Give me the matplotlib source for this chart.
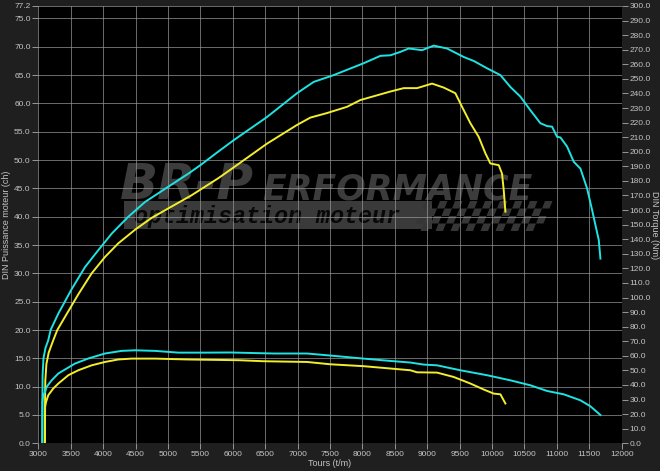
import numpy as np
import matplotlib
matplotlib.use('Agg')
import matplotlib.pyplot as plt
from matplotlib.patches import Polygon, Rectangle

# puissance (ch) - courbe cyan
rpm_p_cyan = [3060, 3062, 3066, 3080, 3110, 3154, 3190, 3309, 3514, 3720, 3926, 4131, 4389,
              4646, 5006, 5314, 5500, 5777, 6013, 6528, 6991, 7248, 7557, 8020, 8277, 8432,
              8586, 8714, 8920, 9100, 9306, 9563, 9717, 9923, 10129, 10283, 10437, 10591,
              10746, 10849, 10926, 11003, 11054, 11157, 11260, 11363, 11466, 11543, 11646,
              11672]
hp_cyan = [0.0, 6.0, 12.0, 15.0, 16.8, 18.2, 20.0, 22.9, 27.2, 31.1, 34.1, 37.0, 40.0,
           42.6, 45.3, 47.6, 49.1, 51.5, 53.5, 57.6, 61.8, 63.8, 65.0, 67.1, 68.4, 68.5,
           69.1, 69.7, 69.4, 70.2, 69.7, 68.2, 67.5, 66.2, 65.0, 62.9, 61.2, 58.8,
           56.5, 56.0, 55.9, 54.1, 54.0, 52.4, 49.7, 48.5, 45.0, 41.2, 35.9,
           32.6]

# puissance (ch) - courbe jaune
rpm_p_yellow = [3100, 3103, 3108, 3125, 3160, 3231, 3293, 3411, 3617, 3823, 4029, 4234, 4492,
                4749, 5057, 5366, 5777, 6013, 6528, 6991, 7197, 7454, 7762, 7969, 8277,
                8431, 8637, 8843, 9074, 9254, 9434, 9537, 9666, 9794, 9897, 9974, 10103,
                10154, 10180, 10206]
hp_yellow = [0.0, 6.0, 11.0, 14.0, 16.0, 18.2, 20.0, 22.3, 26.3, 30.0, 32.9, 35.3, 37.7,
             39.8, 41.8, 43.8, 46.8, 48.7, 52.9, 56.2, 57.5, 58.3, 59.4, 60.6, 61.6,
             62.1, 62.7, 62.7, 63.5, 62.8, 61.8, 59.4, 56.5, 54.1, 51.2, 49.4, 49.1,
             47.6, 44.7, 40.9]

# couple (Nm) - courbe cyan
rpm_t_cyan = [3062, 3064, 3075, 3103, 3129, 3206, 3309, 3411, 3566, 3772, 4029, 4286, 4492,
              4800, 5160, 5571, 5963, 6631, 7146, 7506, 8020, 8432, 8740, 8946, 9151, 9511,
              9923, 10283, 10591, 10849, 11106, 11363, 11517, 11672]
nm_cyan = [0.0, 28.0, 33.0, 35.2, 38.7, 43.2, 47.9, 50.6, 54.7, 58.2, 61.6, 63.4, 63.8,
           63.4, 62.2, 62.2, 62.3, 61.6, 61.6, 60.2, 58.1, 56.5, 55.4, 54.0, 53.5, 50.1,
           46.7, 43.2, 39.8, 35.9, 33.6, 29.5, 25.4, 19.4]

# couple (Nm) - courbe jaune
rpm_t_yellow = [3102, 3105, 3120, 3154, 3231, 3309, 3463, 3617, 3823, 4029, 4234, 4440,
                4800, 5314, 6086, 6477, 7146, 7506, 8020, 8432, 8740, 8843, 9151, 9408,
                9666, 9871, 10026, 10129, 10206]
nm_yellow = [0.0, 25.0, 28.4, 33.0, 37.6, 41.0, 46.7, 50.1, 53.5, 55.8, 57.5, 58.1,
             58.1, 57.5, 57.0, 56.3, 55.8, 54.2, 52.9, 51.3, 50.1, 48.7, 48.5, 45.5,
             41.0, 36.9, 34.1, 33.6, 27.3]

x_ticks = np.arange(3000, 12001, 500)
left_ticks = list(np.arange(0, 75.1, 5)) + [77.2]
right_ticks = np.arange(0, 301, 10)

CYAN = '#1ee3e3'
YELLOW = '#f2ee2a'
LABEL = '#c4c4c4'
GRID = '#9a9a9a'

plt.rcParams['font.family'] = ['Liberation Sans', 'DejaVu Sans']

W, H = 660, 471
fig = plt.figure(figsize=(6.6, 4.71), dpi=100, facecolor='#1f1f1f')
ax = fig.add_axes([38.3 / W, 1 - 443.3 / H, (621.7 - 38.3) / W, (443.3 - 6) / H])
ax.set_facecolor('black')
ax2 = ax.twinx()

# logo en filigrane (coordonnees pixels de l'image)
pix = lambda x, y: (x / W, 1 - y / H)
tf = fig.transFigure
ax.add_patch(Rectangle(pix(124, 229), (432 - 124) / W, 28 / H, transform=tf,
                       facecolor='#3a3a3a', edgecolor='none', zorder=0.2))
ax.text(*pix(120, 199), 'BR-P', transform=tf, fontsize=36, fontweight='bold', style='italic',
        color='#3c3c3c', family='DejaVu Sans', zorder=0.3)
ax.text(*pix(262, 199), 'ERFORMANCE', transform=tf, fontsize=25, fontweight='bold',
        style='italic', color='#3c3c3c', family='DejaVu Sans', zorder=0.3)
ax.text(*pix(134, 223), 'optimisation moteur', transform=tf, fontsize=16.8, fontweight='bold',
        style='italic', color='#080808', family='Liberation Mono', zorder=0.35)
# damier
sq = 7.5
for r in range(4):
    for c in range(17):
        if (r + c) % 2:
            continue
        x0 = 425 + c * sq - r * 3
        y0 = 201 + r * sq
        pts = [pix(x0, y0), pix(x0 + sq, y0), pix(x0 + sq - 3, y0 + sq), pix(x0 - 3, y0 + sq)]
        ax.add_patch(Polygon(pts, closed=True, transform=tf, facecolor='#363636',
                             edgecolor='none', zorder=0.3))

ax.set_xlim(3000, 12000)
ax.set_ylim(0, 77.2)
ax2.set_ylim(0, 300)

ax.set_xticks(x_ticks)
ax.set_yticks(left_ticks)
ax.set_yticklabels(['%.1f' % v for v in left_ticks])
ax2.set_yticks(right_ticks)
ax2.set_yticklabels(['%.1f' % v for v in right_ticks])
ax.grid(True, color=GRID, lw=0.6, alpha=0.8, zorder=0.5)
ax.set_axisbelow(True)

ax.plot(rpm_p_cyan, hp_cyan, color=CYAN, lw=1.4, zorder=3)
ax.plot(rpm_p_yellow, hp_yellow, color=YELLOW, lw=1.4, zorder=3)
ax2.plot(rpm_t_cyan, nm_cyan, color=CYAN, lw=1.4)
ax2.plot(rpm_t_yellow, nm_yellow, color=YELLOW, lw=1.4)

for a in (ax, ax2):
    a.tick_params(colors=LABEL, labelsize=6, length=4, width=0.6, pad=1.5)
    for s in a.spines.values():
        s.set_visible(False)
ax.tick_params(axis='both', color='#aaaaaa')
ax2.tick_params(axis='y', color='#aaaaaa')

ax.set_xlabel('Tours (t/m)', color=LABEL, fontsize=6.5, labelpad=1)
ax.set_ylabel('DIN Puissance moteur (ch)', color=LABEL, fontsize=6.5, labelpad=2)
ax2.set_ylabel('DIN Torque (Nm)', color=LABEL, fontsize=6.5, rotation=270, labelpad=6)

fig.savefig('out.png', dpi=100, facecolor=fig.get_facecolor())
